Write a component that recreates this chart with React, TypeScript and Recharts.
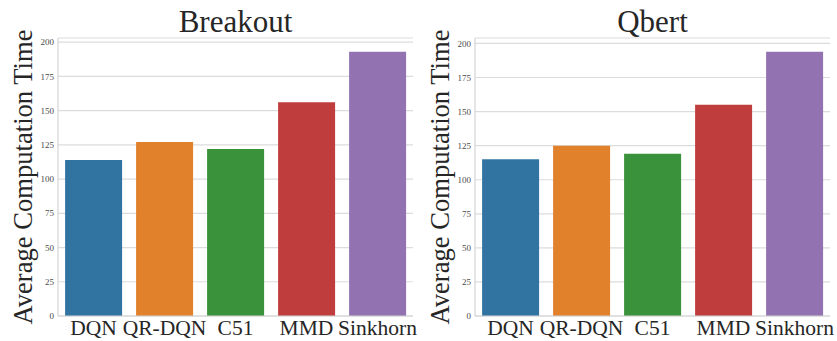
import { BarChart, Bar, XAxis, YAxis, CartesianGrid, Cell, Label } from 'recharts';

const categories = ['DQN', 'QR-DQN', 'C51', 'MMD', 'Sinkhorn'];
const breakoutTimes = [114, 127, 122, 156, 193];
const qbertTimes = [115, 125, 119, 155, 194];
const barColors = ['#3274a1', '#e1812c', '#3a923a', '#c03d3e', '#9372b2'];
const yTicks = [0, 25, 50, 75, 100, 125, 150, 175, 200];

const serif = '"Liberation Serif", "Times New Roman", serif';
const ink = '#262626';
const spine = '#d4d4d4';

const CHART_H = 341;
const PLOT_TOP = 38;
const X_AXIS_H = 25;
const Y_AXIS_W = 30;

interface PanelProps {
  title: string;
  values: number[];
  width: number;
  plotLeft: number;
  plotRight: number;
  yMax: number;
}

function Panel({ title, values, width, plotLeft, plotRight, yMax }: PanelProps) {
  const data = categories.map((name, i) => ({ name, time: values[i] }));
  const plotW = plotRight - plotLeft;
  const plotMid = (PLOT_TOP + (CHART_H - X_AXIS_H)) / 2;

  return (
    <BarChart
      width={width}
      height={CHART_H}
      data={data}
      barCategoryGap="10%"
      margin={{ top: PLOT_TOP, right: width - plotRight, bottom: 0, left: plotLeft - Y_AXIS_W }}
    >
      <CartesianGrid vertical={false} stroke="#dcdcdc" strokeWidth={1.2} />
      <XAxis
        dataKey="name"
        height={X_AXIS_H}
        tickLine={false}
        tickSize={0}
        tickMargin={4}
        interval={0}
        axisLine={{ stroke: spine, strokeWidth: 1.2 }}
        tick={{ fontSize: 21.5, fill: ink, fontFamily: serif }}
      />
      <XAxis
        xAxisId="top"
        dataKey="name"
        orientation="top"
        height={0}
        tick={false}
        tickLine={false}
        axisLine={{ stroke: spine, strokeWidth: 1.2 }}
      />
      <YAxis
        domain={[0, yMax]}
        ticks={yTicks}
        width={Y_AXIS_W}
        tickLine={false}
        tickSize={0}
        tickMargin={4}
        allowDataOverflow
        axisLine={{ stroke: spine, strokeWidth: 1.2 }}
        tick={{ fontSize: 9, fill: '#4a4a4a', fontFamily: serif }}
      >
        <Label
          value="Average Computation Time"
          content={() => (
            <text
              x={plotLeft - 26}
              y={plotMid}
              transform={`rotate(-90, ${plotLeft - 26}, ${plotMid})`}
              textAnchor="middle"
              fontFamily={serif}
              fontSize={26.6}
              fill={ink}
            >
              Average Computation Time
            </text>
          )}
        />
        <Label
          value={title}
          content={() => (
            <text
              x={plotLeft + plotW / 2}
              y={32}
              textAnchor="middle"
              fontFamily={serif}
              fontSize={31}
              fill={ink}
            >
              {title}
            </text>
          )}
        />
      </YAxis>
      <YAxis
        yAxisId="right"
        orientation="right"
        domain={[0, yMax]}
        width={0}
        tick={false}
        tickLine={false}
        axisLine={{ stroke: spine, strokeWidth: 1.2 }}
      />
      <Bar dataKey="time" isAnimationActive={false}>
        {data.map((d, i) => (
          <Cell key={d.name} fill={barColors[i]} />
        ))}
      </Bar>
    </BarChart>
  );
}

export default function App() {
  return (
    <div style={{ position: 'absolute', left: 0, top: 0, width: 837, height: CHART_H, display: 'flex', background: '#fff' }}>
      <Panel title="Breakout" values={breakoutTimes} width={420} plotLeft={58} plotRight={413} yMax={203} />
      <Panel title="Qbert" values={qbertTimes} width={417} plotLeft={55} plotRight={410} yMax={204} />
    </div>
  );
}
